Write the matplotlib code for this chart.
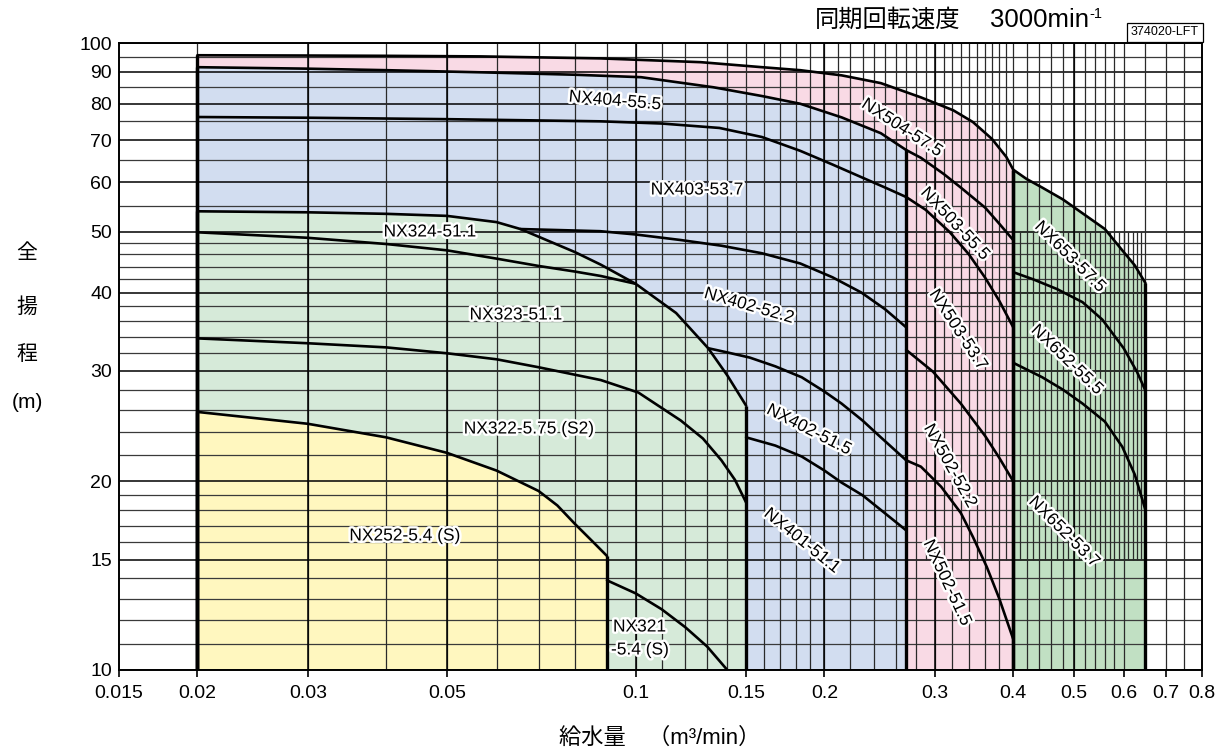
import numpy as np
import matplotlib.pyplot as plt
import matplotlib.patheffects as pe
from matplotlib.patches import Rectangle
from matplotlib.ticker import FixedLocator, FixedFormatter, NullLocator

plt.rcParams['font.family'] = ['Liberation Sans', 'Noto Sans CJK JP']

# ---- pump curves: flow (m3/min) / total head (m) ----
nx504_q = [0.02, 0.03, 0.04, 0.0565, 0.088, 0.127, 0.159, 0.183, 0.213, 0.246, 0.285, 0.321, 0.345, 0.37, 0.39, 0.40]
nx504_h = [95.6, 95.5, 95.4, 95.2, 94.5, 93.2, 91.5, 90.5, 88.8, 86.3, 81.9, 78.1, 74.8, 70.3, 65.8, 62.8]

nx404_q = [0.02, 0.03, 0.04, 0.0565, 0.08, 0.102, 0.133, 0.159, 0.183, 0.213, 0.246, 0.27]
nx404_h = [91.5, 91.0, 90.5, 89.8, 89.0, 88.2, 85.0, 82.3, 80.0, 76.1, 71.8, 67.5]

nx403_q = [0.02, 0.03, 0.05, 0.088, 0.11, 0.136, 0.159, 0.183, 0.206, 0.229, 0.25, 0.27]
nx403_h = [76.2, 76.0, 75.6, 75.0, 74.4, 73.2, 70.8, 67.3, 64.0, 61.1, 58.8, 56.8]

nx402_52_q = [0.0655, 0.0878, 0.1, 0.118, 0.137, 0.159, 0.183, 0.206, 0.229, 0.25, 0.27]
nx402_52_h = [50.5, 50.1, 49.5, 48.5, 47.5, 46.2, 44.5, 42.3, 40.0, 37.6, 35.2]

nx402_51_q = [0.1305, 0.14, 0.152, 0.167, 0.184, 0.2, 0.213, 0.23, 0.246, 0.27]
nx402_51_h = [32.6, 32.1, 31.5, 30.5, 29.3, 27.8, 26.6, 25.0, 23.5, 21.6]

nx401_q = [0.15, 0.167, 0.184, 0.2, 0.213, 0.23, 0.246, 0.27]
nx401_h = [23.5, 22.8, 21.9, 20.8, 19.9, 19.0, 18.0, 16.7]

nx324_q = [0.02, 0.03, 0.04, 0.05, 0.06, 0.0655, 0.07, 0.08, 0.088, 0.1, 0.116, 0.1305, 0.14, 0.15]
nx324_h = [53.9, 53.7, 53.4, 53.0, 51.8, 50.5, 49.1, 46.4, 44.3, 41.3, 37.1, 32.6, 29.5, 26.4]

nx323_q = [0.02, 0.03, 0.04, 0.05, 0.06, 0.07, 0.08, 0.088, 0.1]
nx323_h = [49.9, 48.9, 47.8, 46.7, 45.3, 44.1, 43.2, 42.5, 41.3]

nx322_q = [0.02, 0.03, 0.04, 0.05, 0.06, 0.07, 0.088, 0.101, 0.118, 0.128, 0.137, 0.144, 0.15]
nx322_h = [33.8, 33.2, 32.7, 32.0, 31.3, 30.4, 29.0, 27.7, 25.0, 23.4, 21.6, 20.1, 18.5]

nx252_q = [0.02, 0.03, 0.04, 0.05, 0.06, 0.07, 0.075, 0.08, 0.085, 0.09]
nx252_h = [25.8, 24.7, 23.5, 22.2, 20.8, 19.3, 18.3, 17.1, 16.1, 15.2]

nx321_q = [0.09, 0.1, 0.11, 0.12, 0.13, 0.14]
nx321_h = [13.9, 13.25, 12.5, 11.7, 10.9, 10.0]

nx503_55_q = [0.27, 0.285, 0.31, 0.33, 0.361, 0.38, 0.40]
nx503_55_h = [67.5, 65.6, 61.8, 58.8, 54.6, 51.5, 48.5]

nx503_53_q = [0.27, 0.29, 0.317, 0.34, 0.361, 0.38, 0.40]
nx503_53_h = [56.8, 54.2, 49.9, 46.0, 42.2, 38.8, 35.2]

nx502_52_q = [0.27, 0.298, 0.33, 0.361, 0.38, 0.40]
nx502_52_h = [32.4, 29.9, 26.6, 23.6, 21.8, 20.0]

nx502_51_q = [0.27, 0.285, 0.307, 0.33, 0.345, 0.363, 0.38, 0.40]
nx502_51_h = [21.6, 21.1, 19.6, 17.8, 16.3, 14.6, 13.0, 11.2]

nx653_q = [0.40, 0.42, 0.445, 0.48, 0.516, 0.56, 0.597, 0.625, 0.65]
nx653_h = [62.8, 60.7, 58.8, 56.3, 53.5, 50.5, 46.7, 44.2, 41.4]

nx652_55_q = [0.40, 0.43, 0.47, 0.516, 0.555, 0.60, 0.63, 0.65]
nx652_55_h = [43.1, 42.0, 40.5, 38.6, 36.2, 32.6, 29.9, 27.9]

nx652_53_q = [0.40, 0.445, 0.48, 0.516, 0.56, 0.597, 0.625, 0.65]
nx652_53_h = [30.9, 29.3, 28.0, 26.6, 24.9, 22.7, 20.5, 18.0]

# axis ticks
x_ticks = [0.015, 0.02, 0.03, 0.05, 0.1, 0.15, 0.2, 0.3, 0.4, 0.5, 0.6, 0.7, 0.8]
x_ticklabels = ['0.015', '0.02', '0.03', '0.05', '0.1', '0.15', '0.2', '0.3', '0.4', '0.5', '0.6', '0.7', '0.8']
y_ticks = [10, 15, 20, 30, 40, 50, 60, 70, 80, 90, 100]

# colours of the model groups
c_pink = '#F9DAE5'
c_blue = '#D2DDF0'
c_lgreen = '#D6EAD9'
c_yellow = '#FFF7BF'
c_dgreen = '#C1E0C3'

fig = plt.figure(figsize=(12.3, 7.55), dpi=100)
ax = fig.add_axes([119 / 1230, 85 / 755, 1083 / 1230, 627 / 755])
ax.set_xscale('log')
ax.set_yscale('log')
ax.set_xlim(0.015, 0.8)
ax.set_ylim(10, 100)

# ---- grid ----
h_minor = [11, 12, 13, 14, 16, 17, 18, 19, 22, 24, 26, 28, 32, 34, 36, 38,
           42, 44, 46, 48, 55, 65, 75, 85, 95]
ax.hlines(h_minor, 0.015, 0.8, color='#3a3a3a', lw=0.9, zorder=2)
ax.hlines(y_ticks, 0.015, 0.8, color='black', lw=1.1, zorder=2)

q_low = np.round(np.arange(0.02, 0.2001, 0.01), 3)
q_fine_mid = np.round(np.arange(0.21, 0.395, 0.01), 3)
q_coarse_mid = np.round(np.arange(0.22, 0.39, 0.02), 3)
q_fine_hi = np.round(np.arange(0.41, 0.645, 0.01), 3)
q_coarse_hi = np.round(np.arange(0.42, 0.59, 0.02), 3)
q_top = [0.4, 0.6, 0.65, 0.7, 0.75]
ax.vlines(q_low, 10, 100, color='#2a2a2a', lw=0.9, zorder=2)
ax.vlines(q_top, 10, 100, color='#2a2a2a', lw=0.9, zorder=2)
ax.vlines(q_fine_mid, 15, 100, color='#2a2a2a', lw=0.9, zorder=2)
ax.vlines(q_coarse_mid, 10, 15, color='#2a2a2a', lw=0.9, zorder=2)
ax.vlines(q_fine_hi, 15, 50, color='#2a2a2a', lw=0.9, zorder=2)
ax.vlines(q_coarse_hi, 10, 15, color='#2a2a2a', lw=0.9, zorder=2)
ax.vlines(q_coarse_hi, 50, 100, color='#2a2a2a', lw=0.9, zorder=2)
ax.vlines([0.03, 0.05, 0.1, 0.2, 0.3, 0.5], 10, 100, color='black', lw=1.1, zorder=2)

# ---- coloured ranges ----
for q, h, col, z in [(nx504_q, nx504_h, c_pink, 1.0),
                     (nx404_q, nx404_h, c_blue, 1.1),
                     (nx324_q, nx324_h, c_lgreen, 1.2),
                     (nx252_q, nx252_h, c_yellow, 1.3),
                     (nx653_q, nx653_h, c_dgreen, 1.4)]:
    ax.fill_between(q, h, 10, color=col, lw=0, zorder=z)
    ax.vlines([q[0], q[-1]], 10, [h[0], h[-1]], color='black', lw=2.4, zorder=3)

curves = [nx504_q, nx504_h, nx404_q, nx404_h, nx403_q, nx403_h,
          nx402_52_q, nx402_52_h, nx402_51_q, nx402_51_h, nx401_q, nx401_h,
          nx324_q, nx324_h, nx323_q, nx323_h, nx322_q, nx322_h,
          nx252_q, nx252_h, nx321_q, nx321_h,
          nx503_55_q, nx503_55_h, nx503_53_q, nx503_53_h,
          nx502_52_q, nx502_52_h, nx502_51_q, nx502_51_h,
          nx653_q, nx653_h, nx652_55_q, nx652_55_h, nx652_53_q, nx652_53_h]
for i in range(0, len(curves), 2):
    ax.plot(curves[i], curves[i + 1], color='black', lw=1.9,
            solid_joinstyle='round', solid_capstyle='round', zorder=3)

# ---- model labels (pixel positions in the figure) ----
halo = [pe.withStroke(linewidth=3.5, foreground='white')]
labels = [
    ('NX504-57.5', 902, 128, -33),
    ('NX404-55.5', 615, 101, -5),
    ('NX403-53.7', 697, 190, 0),
    ('NX324-51.1', 430, 232, 0),
    ('NX323-51.1', 516, 315, 0),
    ('NX402-52.2', 749, 306, -16),
    ('NX322-5.75 (S2)', 529, 429, 0),
    ('NX252-5.4 (S)', 405, 536, 0),
    ('NX402-51.5', 809, 430, -27),
    ('NX401-51.1', 802, 541, -39),
    ('NX503-55.5', 955, 224, -47),
    ('NX503-53.7', 958, 330, -57),
    ('NX502-52.2', 950, 466, -61),
    ('NX502-51.5', 947, 583, -65),
    ('NX653-57.5', 1070, 257, -45),
    ('NX652-55.5', 1067, 360, -44),
    ('NX652-53.7', 1064, 532, -45),
]
for txt, px, py, rot in labels:
    fig.text(px / 1230, 1 - py / 755, txt, fontsize=12.5, rotation=rot,
             rotation_mode='anchor', ha='center', va='center',
             path_effects=halo, zorder=6)
fig.text(613 / 1230, 1 - 627 / 755, 'NX321', fontsize=12.5, ha='left', va='center',
         path_effects=halo, zorder=6)
fig.text(611 / 1230, 1 - 650 / 755, '-5.4 (S)', fontsize=12.5, ha='left', va='center',
         path_effects=halo, zorder=6)

# ---- axes cosmetics ----
ax.xaxis.set_major_locator(FixedLocator(x_ticks))
ax.xaxis.set_major_formatter(FixedFormatter(x_ticklabels))
ax.xaxis.set_minor_locator(NullLocator())
ax.yaxis.set_major_locator(FixedLocator(y_ticks))
ax.yaxis.set_major_formatter(FixedFormatter([str(v) for v in y_ticks]))
ax.yaxis.set_minor_locator(NullLocator())
ax.tick_params(axis='x', direction='out', length=5, width=1.2, pad=6, labelsize=14)
ax.tick_params(axis='y', length=0, pad=5, labelsize=14)
for s in ax.spines.values():
    s.set_linewidth(1.4)
    s.set_zorder(4)

# axis titles
for ch, py in [('全', 254), ('揚', 307), ('程', 355), ('(m)', 402)]:
    fig.text(27 / 1230, 1 - py / 755, ch, fontsize=15, ha='center', va='center')
fig.text(660 / 1230, 1 - 738 / 755, '給水量\u3000（m³/min）', fontsize=16,
         ha='center', va='center')

# heading and code box
fig.text(815 / 1230, 1 - 20 / 755, '同期回転速度', fontsize=17.5, ha='left', va='center')
fig.text(990 / 1230, 1 - 20 / 755, '3000min', fontsize=18.5, ha='left', va='center')
fig.text(1089 / 1230, 1 - 14 / 755, '-1', fontsize=10.5, ha='left', va='center')
fig.patches.append(Rectangle((1127 / 1230, 1 - 42 / 755), 76 / 1230, 19 / 755,
                             transform=fig.transFigure, fill=False,
                             edgecolor='black', lw=0.9))
fig.text(1165 / 1230, 1 - 32 / 755, '374020-LFT', fontsize=9, ha='center', va='center')

fig.savefig('out.png', dpi=100)
